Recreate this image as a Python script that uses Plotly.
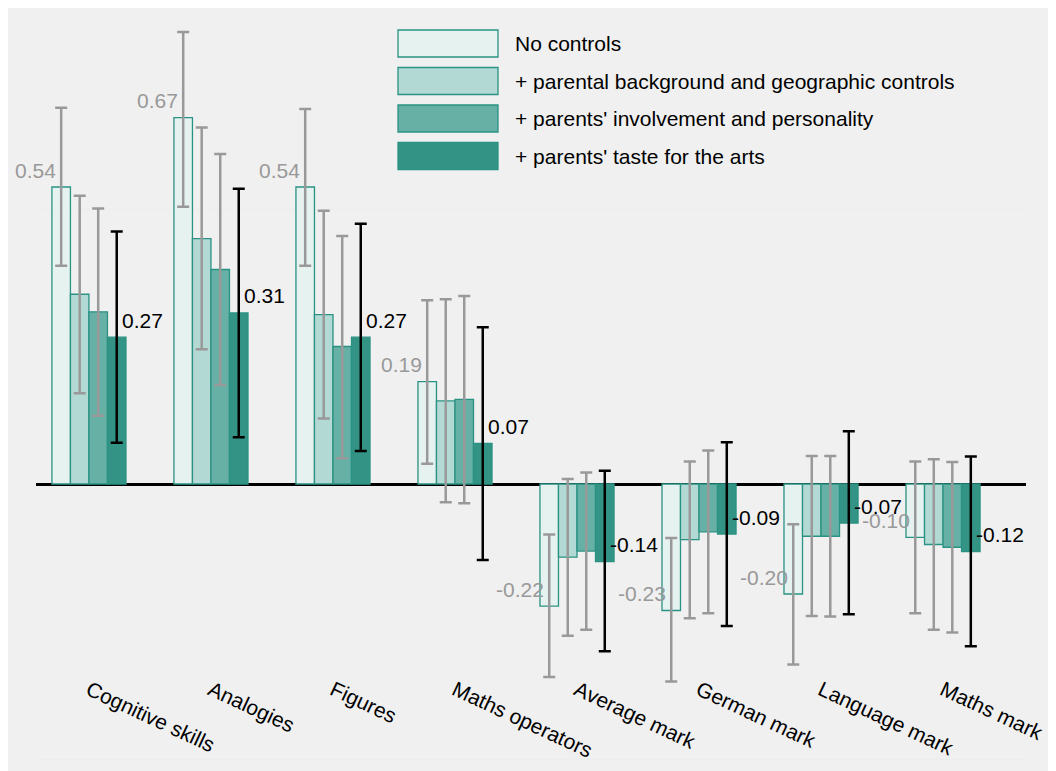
import plotly.graph_objects as go

categories = ["Cognitive skills", "Analogies", "Figures", "Maths operators",
              "Average mark", "German mark", "Language mark", "Maths mark"]

series_names = ["No controls",
                "+ parental background and geographic controls",
                "+ parents' involvement and personality",
                "+ parents' taste for the arts"]

# point estimates
no_controls = [0.54, 0.666, 0.54, 0.186, -0.222, -0.23, -0.20, -0.097]
background = [0.345, 0.446, 0.308, 0.151, -0.133, -0.101, -0.095, -0.11]
involvement = [0.313, 0.39, 0.25, 0.154, -0.122, -0.087, -0.095, -0.115]
taste_arts = [0.267, 0.311, 0.267, 0.074, -0.141, -0.091, -0.071, -0.123]

# confidence interval bounds
no_controls_hi = [0.684, 0.822, 0.682, 0.334, -0.092, -0.098, -0.073, 0.041]
no_controls_lo = [0.397, 0.504, 0.397, 0.037, -0.351, -0.359, -0.328, -0.235]
background_hi = [0.524, 0.648, 0.497, 0.336, 0.009, 0.041, 0.051, 0.045]
background_lo = [0.165, 0.245, 0.119, -0.033, -0.276, -0.244, -0.24, -0.265]
involvement_hi = [0.501, 0.60, 0.451, 0.342, 0.021, 0.061, 0.051, 0.04]
involvement_lo = [0.124, 0.18, 0.047, -0.035, -0.265, -0.235, -0.241, -0.27]
taste_arts_hi = [0.459, 0.537, 0.473, 0.285, 0.024, 0.076, 0.096, 0.05]
taste_arts_lo = [0.075, 0.085, 0.06, -0.138, -0.304, -0.258, -0.237, -0.295]

fills = ["#e6f2f0", "#b3d9d4", "#66b0a6", "#339486"]
edge = "#2a9282"
err_colors = ["#999999", "#999999", "#999999", "#000000"]
FONT = "Liberation Sans, Arial, sans-serif"

W, H = 1056, 771
# page offset of the figure inside the browser window
OX, OY = 7, 8
L, R, T, B = 28, 38, 0, 0
BARGAP = 0.393
bar_w = (1 - BARGAP) / 4

series = [(no_controls, no_controls_hi, no_controls_lo),
          (background, background_hi, background_lo),
          (involvement, involvement_hi, involvement_lo),
          (taste_arts, taste_arts_hi, taste_arts_lo)]

xs = list(range(len(categories)))

fig = go.Figure()
for k, (vals, hi, lo) in enumerate(series):
    fig.add_trace(go.Bar(
        x=xs, y=vals, name=series_names[k],
        marker=dict(color=fills[k], line=dict(color=edge, width=1.3)),
        error_y=dict(type="data", symmetric=False,
                     array=[h - v for h, v in zip(hi, vals)],
                     arrayminus=[v - l for v, l in zip(vals, lo)],
                     color=err_colors[k], thickness=2.5, width=6),
        showlegend=False,
    ))


# screen pixel -> paper coordinates
def px_x(p):
    return (p - OX - L) / (W - L - R)


def px_y(p):
    return (H - B - (p - OY)) / (H - B - T)


annotations = []
for i in xs:
    v = no_controls[i]
    annotations.append(dict(x=i - 1.5 * bar_w, y=v, text=f"{v:.2f}", showarrow=False,
                            xanchor="right", yanchor="middle", xshift=-3, yshift=17,
                            font=dict(family=FONT, size=21, color="#999999")))
    v = taste_arts[i]
    annotations.append(dict(x=i + 1.5 * bar_w, y=v, text=f"{v:.2f}", showarrow=False,
                            xanchor="left", yanchor="middle", xshift=3, yshift=17,
                            font=dict(family=FONT, size=21, color="#000000")))

# hand-made legend with large swatches
shapes = []
for k, name in enumerate(series_names):
    top = 30 + 37.5 * k
    shapes.append(dict(type="rect", xref="paper", yref="paper",
                       x0=px_x(397), x1=px_x(497), y0=px_y(top + 27), y1=px_y(top),
                       fillcolor=fills[k], line=dict(color=edge, width=1.3)))
    annotations.append(dict(xref="paper", yref="paper", x=px_x(512), y=px_y(top + 13.5),
                            text=name, showarrow=False, xanchor="left", yanchor="middle",
                            font=dict(family=FONT, size=21, color="#000000")))

scale = 550.0
zero_px = 484 - OY
y_top = (zero_px - T) / scale
y_bot = (zero_px - (H - B)) / scale

fig.update_layout(
    width=W, height=H,
    margin=dict(l=L, r=R, t=T, b=B),
    paper_bgcolor="#f0f0f0", plot_bgcolor="rgba(0,0,0,0)",
    barmode="group", bargap=BARGAP, bargroupgap=0,
    font=dict(family=FONT, size=21, color="#000000"),
    annotations=annotations, shapes=shapes,
    xaxis=dict(range=[-0.434, 7.68], tickvals=xs, ticktext=categories,
               tickangle=25, showgrid=False, zeroline=False, showline=False,
               ticks="", anchor="free", position=px_y(673),
               tickfont=dict(family=FONT, size=21, color="#000000")),
    yaxis=dict(range=[y_bot, y_top], tickvals=[-0.5, 0.5], showticklabels=False,
               showgrid=True, gridcolor="#e9efee", gridwidth=1,
               zeroline=True, zerolinecolor="#000000", zerolinewidth=3),
)

fig.write_html("out.html")
